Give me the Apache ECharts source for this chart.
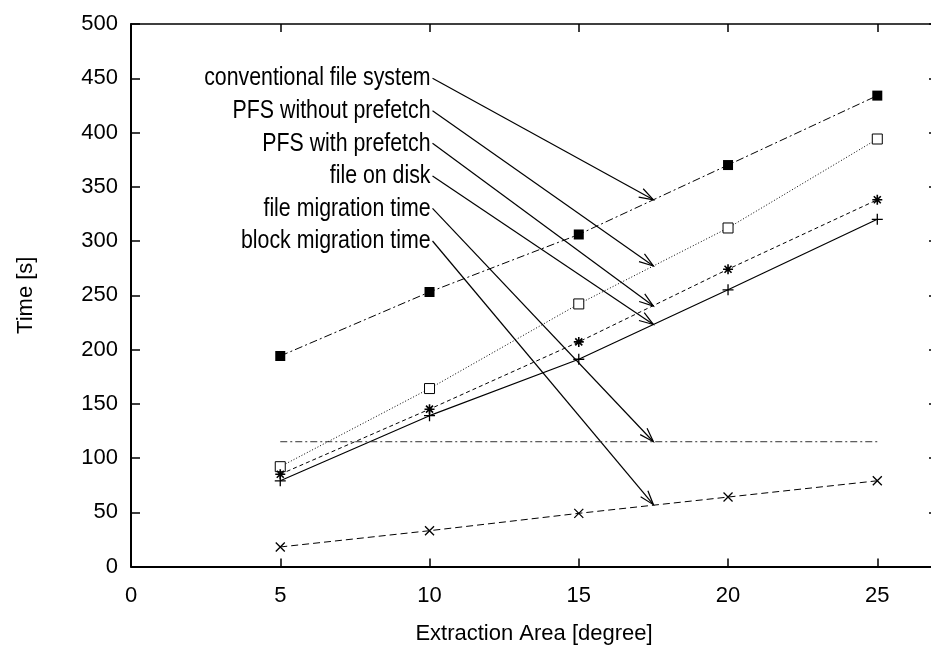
<!DOCTYPE html>
<html>
<head>
<meta charset="utf-8">
<script src="https://cdn.jsdelivr.net/npm/echarts@6/dist/echarts.min.js"></script>
<style>
html,body{margin:0;padding:0;background:#fff;}
#chart{width:931px;height:650px;}
</style>
</head>
<body>
<div id="chart"></div>
<script>
// ---- data ----
const xValues = [5, 10, 15, 20, 25];
const conventional = [194, 253, 306, 370, 434];
const pfsNoPrefetch = [92, 164, 242, 312, 394];
const pfsPrefetch = [85, 145, 207, 274, 338];
const fileOnDisk = [79, 139, 191, 255, 320];
const fileMigrationX = [5, 25];
const fileMigrationY = [115, 115];
const blockMigration = [18, 33, 49, 64, 79];

const annLabels = ['conventional file system', 'PFS without prefetch', 'PFS with prefetch', 'file on disk', 'file migration time', 'block migration time'];
const annLabelX = 10;
const annLabelY = [450, 420, 390, 360, 330, 300];
const annTipX = 17.5;
const annTipY = [338, 277, 240, 223, 115, 57];

const xTicks = [0, 5, 10, 15, 20, 25];
const yTicks = [0, 50, 100, 150, 200, 250, 300, 350, 400, 450, 500];

// ---- font detection ----
function fontAvailable(name) {
  const c = document.createElement('canvas').getContext('2d');
  const s = 'conventional file system 0123';
  c.font = '40px monospace';
  const a = c.measureText(s).width;
  c.font = "40px '" + name + "', monospace";
  const b = c.measureText(s).width;
  return a !== b;
}
let FONT = "'Liberation Sans', Arial, Helvetica, sans-serif";
let FS = 22;        // axis text size
let ANN_FS = 26;    // annotation text size
let ANN_SX = 0.82;  // horizontal squeeze for annotation text (Helvetica Narrow look)
const narrowCandidates = ['Liberation Sans Narrow', 'Arial Narrow'];
for (const f of narrowCandidates) {
  if (fontAvailable(f)) {
    FONT = "'" + f + "', 'Liberation Sans', sans-serif";
    FS = 26; ANN_FS = 26; ANN_SX = 1;
    break;
  }
}

function pairs(xs, ys) { return xs.map((x, i) => [x, ys[i]]); }

const P = (d) => 'path://' + d;
const plusPath = P('M5,0L5,10M0,5L10,5');
const crossPath = P('M0,0L10,10M10,0L0,10');
const starPath = P('M5,0L5,10M0,5L10,5M1.5,1.5L8.5,8.5M8.5,1.5L1.5,8.5');

const tickFmt = (v) => (xTicks.indexOf(v) >= 0 ? String(v) : '');
const ytickFmt = (v) => (yTicks.indexOf(v) >= 0 ? String(v) : '');

const chart = echarts.init(document.getElementById('chart'), null, {renderer: 'canvas'});

const textStyle = {fontFamily: FONT, fontSize: FS, color: '#000'};

const option = {
  backgroundColor: '#fff',
  animation: false,
  grid: {left: 131, top: 24, width: 806, height: 542.5, containLabel: false, outerBoundsMode: 'none'},
  xAxis: [{
    type: 'value', min: 0, max: 27, interval: 5, position: 'bottom',
    axisLine: {show: true, onZero: false, lineStyle: {color: '#000', width: 2}},
    axisTick: {show: true, inside: true, length: 8, lineStyle: {color: '#000', width: 1.5}},
    axisLabel: {formatter: tickFmt, margin: 18, ...textStyle},
    splitLine: {show: false},
    name: 'Extraction Area [degree]', nameLocation: 'middle', nameGap: 56,
    nameTextStyle: textStyle
  }, {
    type: 'value', min: 0, max: 27, interval: 5, position: 'top',
    axisLine: {show: true, onZero: false, lineStyle: {color: '#000', width: 1.5}},
    axisTick: {show: true, inside: true, length: 8, lineStyle: {color: '#000', width: 1.5}},
    axisLabel: {show: false},
    splitLine: {show: false}
  }],
  yAxis: [{
    type: 'value', min: 0, max: 500, interval: 50, position: 'left',
    axisLine: {show: true, onZero: false, lineStyle: {color: '#000', width: 2}},
    axisTick: {show: true, inside: true, length: 9, lineStyle: {color: '#000', width: 1.5}},
    axisLabel: {formatter: ytickFmt, margin: 13, ...textStyle},
    splitLine: {show: false},
    name: 'Time [s]', nameLocation: 'middle', nameGap: 94,
    nameTextStyle: textStyle
  }, {
    type: 'value', min: 0, max: 500, interval: 50, position: 'right',
    axisLine: {show: true, onZero: false, lineStyle: {color: '#000', width: 1.5}},
    axisTick: {show: true, inside: true, length: 8, lineStyle: {color: '#000', width: 1.5}},
    axisLabel: {show: false},
    splitLine: {show: false}
  }],
  series: [
    {
      name: 'conventional file system', type: 'line', data: pairs(xValues, conventional),
      symbol: 'rect', symbolSize: 10,
      itemStyle: {color: '#000'},
      lineStyle: {color: '#000', width: 1, type: [8, 3, 2, 3]}
    },
    {
      name: 'PFS without prefetch', type: 'line', data: pairs(xValues, pfsNoPrefetch),
      symbol: 'rect', symbolSize: 10,
      itemStyle: {color: '#fff', borderColor: '#000', borderWidth: 1},
      lineStyle: {color: '#000', width: 1, type: [1, 2]}
    },
    {
      name: 'PFS with prefetch', type: 'line', data: pairs(xValues, pfsPrefetch),
      symbol: starPath, symbolSize: 10,
      itemStyle: {color: '#000', borderColor: '#000', borderWidth: 1.6},
      lineStyle: {color: '#000', width: 1, type: [4, 3]}
    },
    {
      name: 'file on disk', type: 'line', data: pairs(xValues, fileOnDisk),
      symbol: plusPath, symbolSize: 11,
      itemStyle: {color: '#000', borderColor: '#000', borderWidth: 1.3},
      lineStyle: {color: '#000', width: 1.2, type: 'solid'}
    },
    {
      name: 'file migration time', type: 'line', data: pairs(fileMigrationX, fileMigrationY),
      symbol: 'none',
      lineStyle: {color: '#333', width: 1, type: [7, 3, 2, 3]}
    },
    {
      name: 'block migration time', type: 'line', data: pairs(xValues, blockMigration),
      symbol: crossPath, symbolSize: 9,
      itemStyle: {color: '#000', borderColor: '#000', borderWidth: 1.3},
      lineStyle: {color: '#000', width: 1, type: [7, 4]}
    },
    {
      name: 'annotations', type: 'custom', clip: false, silent: true,
      coordinateSystem: 'cartesian2d',
      encode: {x: [0, 2], y: [1, 3]},
      data: annLabels.map((t, i) => [annLabelX, annLabelY[i], annTipX, annTipY[i]]),
      renderItem: function (params, api) {
        const i = params.dataIndex;
        const a = api.coord([api.value(0), api.value(1)]);
        const b = api.coord([api.value(2), api.value(3)]);
        const sx = a[0] + 3, sy = a[1];
        const ang = Math.atan2(b[1] - sy, b[0] - sx);
        const L = 15, h = 0.32;
        const p1 = [b[0] - L * Math.cos(ang - h), b[1] - L * Math.sin(ang - h)];
        const p2 = [b[0] - L * Math.cos(ang + h), b[1] - L * Math.sin(ang + h)];
        const ls = {stroke: '#000', lineWidth: 1.2, fill: null};
        return {
          type: 'group',
          children: [
            {type: 'text', x: a[0] + 1, y: a[1], scaleX: ANN_SX, scaleY: 1,
             style: {text: annLabels[i], x: 0, y: 0, align: 'right', verticalAlign: 'middle', font: ANN_FS + 'px ' + FONT, fill: '#000'}},
            {type: 'line', shape: {x1: sx, y1: sy, x2: b[0], y2: b[1]}, style: ls},
            {type: 'polyline', shape: {points: [p1, b, p2]}, style: ls}
          ]
        };
      }
    }
  ]
};
chart.setOption(option);
</script>
</body>
</html>
